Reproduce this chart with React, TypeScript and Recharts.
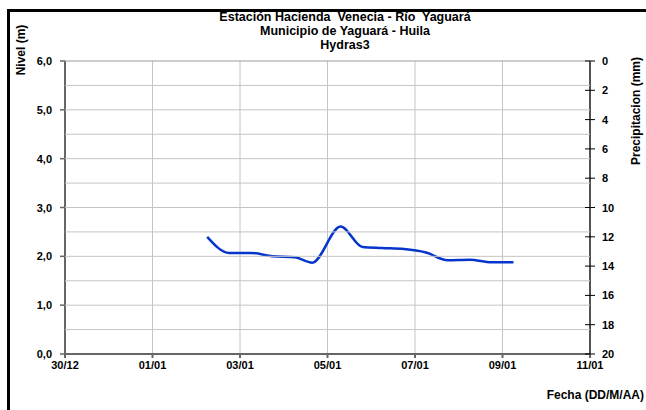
import React from 'react';
import { ComposedChart, Line, XAxis, YAxis, CartesianGrid } from 'recharts';

// x = days since 30/12
const fechaTicks = ['30/12', '01/01', '03/01', '05/01', '07/01', '09/01', '11/01'];
const dias = [3.25, 3.75, 4.25, 4.75, 5.25, 5.65, 6.3, 6.8, 7.25, 7.75, 8.25, 8.75, 9.25, 9.75, 10.25];
const nivel = [2.4, 2.07, 2.07, 2.0, 1.98, 1.87, 2.61, 2.19, 2.17, 2.15, 2.08, 1.92, 1.93, 1.88, 1.88];
// no rain recorded in the period
const precipitacion: (number | null)[] = dias.map(() => null);
const nivelTicks = [0, 0.5, 1, 1.5, 2, 2.5, 3, 3.5, 4, 4.5, 5, 5.5, 6];
const precipTicks = [0, 2, 4, 6, 8, 10, 12, 14, 16, 18, 20];

const data = dias.map((d, i) => ({ dia: d, nivel: nivel[i], precip: precipitacion[i] }));

const W = 646;
const H = 410;
const LEFT_W = 65;
const RIGHT_W = 56;
const PLOT_W = W - LEFT_W - RIGHT_W;
const TICK_OFF = 8; // tickSize 6 + tickMargin 2

const FONT = '"Liberation Sans", Arial, sans-serif';
const tickStyle = { fontFamily: FONT, fontSize: 11, fontWeight: 700, fill: '#000' };

// every half metre gets a grid row, whole metres also a tick mark and label
const LeftTick = (props: any) => {
  const { x, y, payload } = props;
  const ax = x + TICK_OFF;
  const whole = Number.isInteger(payload.value);
  return (
    <g>
      {payload.value > 0 && (
        <line x1={ax} x2={ax + PLOT_W} y1={y} y2={y} stroke={payload.value === 6 ? '#999' : '#c4c4c4'} strokeWidth={1} />
      )}
      {whole && <line x1={ax - 5} x2={ax} y1={y} y2={y} stroke="#666" strokeWidth={1.5} />}
      {whole && (
        <text x={ax - 13} y={y + 4} textAnchor="end" style={tickStyle}>
          {payload.value.toFixed(1).replace('.', ',')}
        </text>
      )}
    </g>
  );
};

const RightTick = (props: any) => {
  const { x, y, payload } = props;
  const ax = x - TICK_OFF;
  return (
    <g>
      <line x1={ax - 5} x2={ax + 5} y1={y} y2={y} stroke="#000" strokeWidth={1} />
      <text x={ax + 12} y={y + 4} style={tickStyle}>{payload.value}</text>
    </g>
  );
};

export default function App() {
  return (
    <div style={{ position: 'absolute', left: 0, top: 0, width: W, height: H, overflow: 'hidden', background: '#fff' }}>
      <div style={{ position: 'absolute', left: 7, top: 9, width: 700, height: 500, borderLeft: '3px solid #000', borderTop: '3px solid #000' }} />
      <ComposedChart width={W} height={H} data={data} margin={{ top: 61, right: 0, bottom: 0, left: 0 }}>
        <CartesianGrid stroke="#c4c4c4" horizontal={false} />
        <XAxis
          dataKey="dia"
          type="number"
          domain={[0, 12]}
          ticks={[0, 2, 4, 6, 8, 10, 12]}
          tickFormatter={(v: number) => fechaTicks[v / 2]}
          height={56}
          stroke="#666"
          strokeWidth={2}
          tickSize={4}
          tickMargin={3}
          tick={tickStyle}
        />
        <YAxis
          domain={[0, 6]}
          ticks={nivelTicks}
          interval={0}
          width={LEFT_W}
          stroke="#666"
          strokeWidth={2}
          tickSize={6}
          tickMargin={2}
          tickLine={false}
          tick={<LeftTick />}
        />
        <YAxis
          yAxisId="precip"
          orientation="right"
          type="number"
          domain={[0, 20]}
          allowDataOverflow
          reversed
          ticks={precipTicks}
          interval={0}
          width={RIGHT_W}
          stroke="#222"
          strokeWidth={1.5}
          tickSize={6}
          tickMargin={2}
          tickLine={false}
          tick={<RightTick />}
        />
        <Line
          yAxisId="precip"
          dataKey="precip"
          stroke="#000"
          dot={false}
          isAnimationActive={false}
        />
        <Line
          dataKey="nivel"
          type="monotone"
          stroke="#0535cc"
          strokeWidth={2.5}
          dot={false}
          isAnimationActive={false}
        />
      </ComposedChart>
      <div style={{ position: 'absolute', left: 0, top: 10, width: 690, textAlign: 'center', fontFamily: FONT, fontSize: 12.5, fontWeight: 700, lineHeight: '14px', whiteSpace: 'pre' }}>
        <div>Estación Hacienda  Venecia - Río  Yaguará</div>
        <div>Municipio de Yaguará - Huila</div>
        <div>Hydras3</div>
      </div>
      <div style={{ position: 'absolute', left: 21, top: 50, transform: 'translate(-50%, -50%) rotate(-90deg)', whiteSpace: 'nowrap', fontFamily: FONT, fontSize: 12, fontWeight: 700 }}>
        Nivel (m)
      </div>
      <div style={{ position: 'absolute', left: 636, top: 111, transform: 'translate(-50%, -50%) rotate(-90deg)', whiteSpace: 'nowrap', fontFamily: FONT, fontSize: 12, fontWeight: 700 }}>
        Precipitacion (mm)
      </div>
      <div style={{ position: 'absolute', right: 2, top: 388, whiteSpace: 'nowrap', fontFamily: FONT, fontSize: 12, fontWeight: 700 }}>
        Fecha (DD/M/AA)
      </div>
    </div>
  );
}
